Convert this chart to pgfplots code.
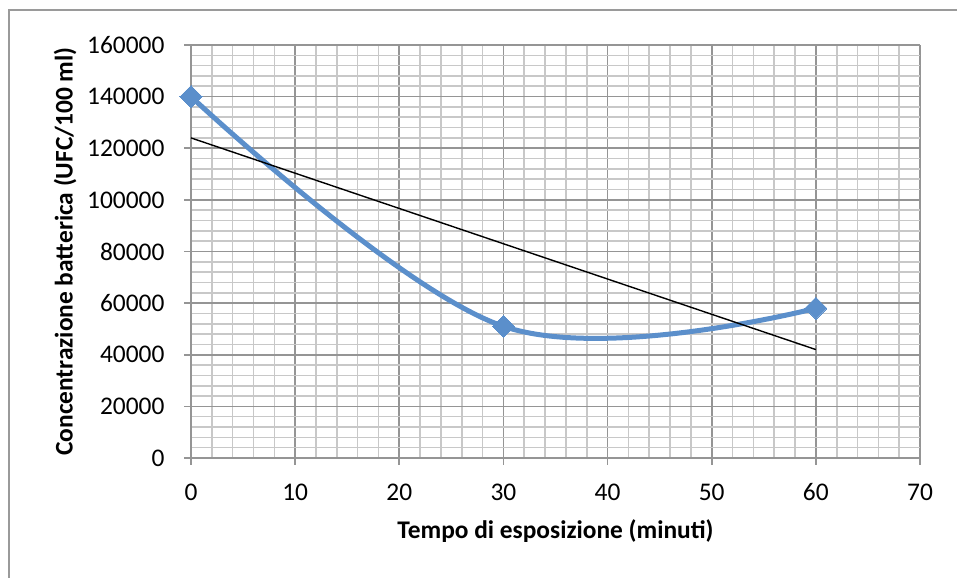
\documentclass[border=0pt]{standalone}
\usepackage{fontspec}
\setmainfont{Carlito}
\usepackage{pgfplots}
\pgfplotsset{compat=1.18}

\definecolor{serieblue}{HTML}{5B8FCB}
\definecolor{majorgrid}{HTML}{959595}
\definecolor{minorgrid}{HTML}{C8C8C8}
\definecolor{framegray}{HTML}{9A9A9A}

\begin{document}
\begin{tikzpicture}[x=1bp,y=1bp]
  \useasboundingbox (0,0) rectangle (957,578);
  % chart area frame
  \draw[framegray, line width=2bp] (9,0) -- (9,568) -- (957,568);
  \begin{axis}[
    at={(191bp,120bp)}, anchor=south west,
    scale only axis,
    width=729bp, height=413bp,
    xmin=0, xmax=70, ymin=0, ymax=160000,
    xtick={0,10,...,70},
    ytick={0,20000,...,160000},
    minor x tick num=4,
    minor y tick num=4,
    grid=both,
    major grid style={majorgrid, line width=1.6bp},
    minor grid style={minorgrid, line width=1.6bp},
    axis x line*=bottom, axis y line*=left,
    axis line style={majorgrid, line width=1.6bp, -},
    tick align=outside,
    major tick length=7bp,
    minor tick length=0pt,
    tick style={majorgrid, line width=1.6bp},
    scaled y ticks=false,
    /pgf/number format/fixed,
    /pgf/number format/precision=0,
    /pgf/number format/assume math mode=true,
    /pgf/number format/set thousands separator={},
    tick label style={font=\fontsize{25.5}{28}\selectfont},
    xticklabel style={yshift=-15bp},
    yticklabel style={xshift=-16bp},
    xlabel={\textbf{Tempo di esposizione (minuti)}},
    ylabel={\textbf{Concentrazione batterica (UFC/100 ml)}},
    label style={font=\fontsize{25.5}{28}\selectfont},
    xlabel style={yshift=-12bp},
    ylabel style={yshift=4bp},
    clip=false,
  ]
    % measured counts, smoothed line with markers
    \addplot[serieblue, line width=5bp, smooth, tension=0.6,
      mark=square*, mark size=7.8bp,
      mark options={fill=serieblue, draw=serieblue, line width=0bp, rotate=45}]
      coordinates {(0,140000) (30,51000) (60,58000)};
    % linear trend of the three counts
    \addplot[black, line width=1.4bp]
      coordinates {(0,124000) (60,42000)};
  \end{axis}
\end{tikzpicture}
\end{document}
